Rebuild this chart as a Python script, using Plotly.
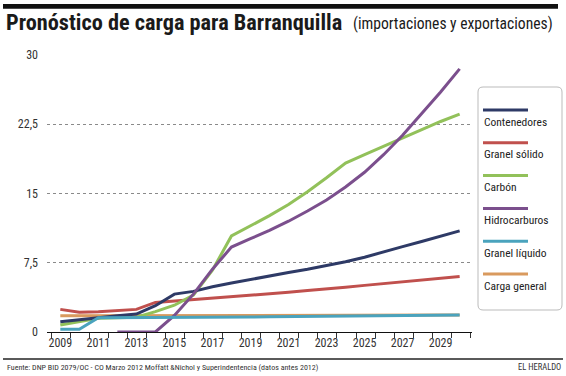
import plotly.graph_objects as go

years = list(range(2009, 2031))
contenedores = [1.1, 1.35, 1.55, 1.75, 1.95, 2.85, 4.1, 4.4, 4.9, 5.3, 5.7, 6.1, 6.45, 6.8, 7.2, 7.6, 8.1, 8.7, 9.25, 9.8, 10.35, 10.95]
granel_solido = [2.45, 2.15, 2.2, 2.3, 2.45, 3.2, 3.35, 3.55, 3.7, 3.8, 3.95, 4.1, 4.3, 4.5, 4.65, 4.85, 5.05, 5.25, 5.45, 5.65, 5.85, 6.0]
carbon = [0.75, 1.15, 1.5, 1.55, 1.6, 2.2, 2.9, 4.0, 6.7, 10.4, 11.5, 12.6, 13.8, 15.2, 16.7, 18.3, 19.2, 20.1, 21.0, 21.9, 22.8, 23.6]
hidrocarburos = [None, None, None, 0.0, 0.0, 0.0, 1.8, 4.1, 6.8, 9.2, 10.1, 11.0, 12.0, 13.1, 14.3, 15.7, 17.3, 19.2, 21.3, 23.6, 26.0, 28.5]
granel_liquido = [0.3, 0.3, 1.55, 1.55, 1.55, 1.55, 1.55, 1.55, 1.57, 1.6, 1.62, 1.64, 1.66, 1.68, 1.7, 1.72, 1.74, 1.76, 1.78, 1.8, 1.82, 1.85]
carga_general = [1.75, 1.75, 1.75, 1.75, 1.75, 1.75, 1.75, 1.75, 1.76, 1.76, 1.77, 1.77, 1.78, 1.78, 1.79, 1.79, 1.8, 1.8, 1.81, 1.82, 1.83, 1.84]

series_names = ["Contenedores", "Granel sólido", "Carbón", "Hidrocarburos", "Granel líquido", "Carga general"]
series_values = [contenedores, granel_solido, carbon, hidrocarburos, granel_liquido, carga_general]
series_colors = ["#2e3a66", "#c0504d", "#92c15a", "#7b4f8d", "#4aa3bd", "#d99a5e"]
draw_order = [5, 1, 2, 0, 3, 4]

y_tickvals = [0, 7.5, 15, 22.5, 30]
y_ticktext = ["0", "7,5", "15", "22,5", "30"]
x_tickvals = list(range(2009, 2030, 2))
x_ticktext = [str(v) for v in x_tickvals]

title_main = "Pronóstico de carga para Barranquilla"
title_sub = "(importaciones y exportaciones)"
source_text = "Fuente: DNP BID 2079/OC - CO Marzo 2012 Moffatt &Nichol y Superindentencia (datos antes 2012)"
brand_text = "EL HERALDO"

W, H = 566, 376
L, R, T, B = 47, 472, 55, 332
NARROW = "Liberation Sans Narrow, Roboto Condensed, DejaVu Sans Condensed, Arial Narrow, sans-serif"


def px(x):
    return x / W


def py(y):
    return 1 - y / H


fig = go.Figure()
for i in draw_order:
    fig.add_trace(go.Scatter(
        x=years, y=series_values[i], name=series_names[i], mode="lines",
        line=dict(color=series_colors[i], width=3), showlegend=False,
        connectgaps=False, hoverinfo="skip",
    ))

# page-level decoration layer (pixel space of the whole figure): top bar and footer rule
fig.add_trace(go.Scatter(x=[3, 558], y=[6.25, 6.25], xaxis="x2", yaxis="y2", mode="lines",
                         line=dict(color="#111111", width=4.5), showlegend=False, hoverinfo="skip"))
fig.add_trace(go.Scatter(x=[3, 563], y=[359, 359], xaxis="x2", yaxis="y2", mode="lines",
                         line=dict(color="#222222", width=1), showlegend=False, hoverinfo="skip"))

shapes = []
annotations = []

# title
annotations.append(dict(xref="paper", yref="paper", x=px(4), y=py(22), xanchor="left", yanchor="middle",
                        text="<b>" + title_main + "</b>", showarrow=False,
                        font=dict(family=NARROW, size=22.3, color="#1a1a1a")))
annotations.append(dict(xref="paper", yref="paper", x=px(351), y=py(24), xanchor="left", yanchor="middle",
                        text=title_sub, showarrow=False,
                        font=dict(family=NARROW, size=15.6, color="#1a1a1a")))
# footer
annotations.append(dict(xref="paper", yref="paper", x=px(5), y=py(367), xanchor="left", yanchor="middle",
                        text=source_text, showarrow=False,
                        font=dict(family=NARROW, size=8, color="#333333")))
annotations.append(dict(xref="paper", yref="paper", x=px(563), y=py(367), xanchor="right", yanchor="middle",
                        text=brand_text, showarrow=False,
                        font=dict(family=NARROW, size=8.5, color="#333333")))

# legend box
lx0, lx1, ly0, ly1, r = 478, 562, 87, 310, 5
path = (f"M {px(lx0 + r)},{py(ly0)} L {px(lx1 - r)},{py(ly0)} "
        f"Q {px(lx1)},{py(ly0)} {px(lx1)},{py(ly0 + r)} "
        f"L {px(lx1)},{py(ly1 - r)} Q {px(lx1)},{py(ly1)} {px(lx1 - r)},{py(ly1)} "
        f"L {px(lx0 + r)},{py(ly1)} Q {px(lx0)},{py(ly1)} {px(lx0)},{py(ly1 - r)} "
        f"L {px(lx0)},{py(ly0 + r)} Q {px(lx0)},{py(ly0)} {px(lx0 + r)},{py(ly0)} Z")
shapes.append(dict(type="path", xref="paper", yref="paper", path=path,
                   line=dict(color="#bbbbbb", width=1), fillcolor="rgba(255,255,255,0)"))
for k, name in enumerate(series_names):
    ly = 110 + k * 32.8
    shapes.append(dict(type="line", xref="paper", yref="paper", x0=px(483), x1=px(528), y0=py(ly), y1=py(ly),
                       line=dict(color=series_colors[k], width=3)))
    annotations.append(dict(xref="paper", yref="paper", x=px(482), y=py(ly + 11.5), xanchor="left",
                            yanchor="middle", text=name, showarrow=False,
                            font=dict(family=NARROW, size=11.5, color="#222222")))

# also as shapes (placed last in the list)
shapes.append(dict(type="rect", xref="paper", yref="paper", x0=px(3), x1=px(558), y0=py(4), y1=py(8.5),
                   fillcolor="#111111", line=dict(width=0)))
shapes.append(dict(type="line", xref="paper", yref="paper", x0=px(3), x1=px(563), y0=py(359), y1=py(359),
                   line=dict(color="#222222", width=1)))

fig.update_layout(
    width=W, height=H,
    margin=dict(l=0, r=0, t=0, b=0, pad=0),
    paper_bgcolor="white", plot_bgcolor="rgba(0,0,0,0)",
    shapes=shapes, annotations=annotations,
    showlegend=False, hovermode=False,
    xaxis=dict(
        domain=[L / W, R / W],
        range=[2008.3, 2030.65], tickvals=x_tickvals, ticktext=x_ticktext,
        ticks="", showgrid=False, zeroline=False, automargin=False,
        showline=True, linecolor="#111111", linewidth=1,
        tickfont=dict(family=NARROW, size=12, color="#333333"),
        minor=dict(ticks="outside", tick0=2008.55, dtick=1, ticklen=5, tickcolor="#333333", showgrid=False),
        fixedrange=True,
    ),
    yaxis=dict(
        domain=[1 - B / H, 1 - T / H],
        range=[0, 30], tickvals=y_tickvals, ticktext=y_ticktext,
        ticks="", showline=False, zeroline=False, automargin=False,
        showgrid=True, gridcolor="#8a8a8a", griddash="dot", gridwidth=1,
        tickfont=dict(family=NARROW, size=12, color="#333333"),
        ticklabelstandoff=8,
        fixedrange=True,
    ),
    xaxis2=dict(domain=[0, 1], range=[0, W], visible=False, fixedrange=True, anchor="y2"),
    yaxis2=dict(domain=[0, 1], range=[H, 0], visible=False, fixedrange=True, anchor="x2"),
)

fig.write_html("out.html", config={"displayModeBar": False},
               post_script="document.body.style.margin='0px';")
